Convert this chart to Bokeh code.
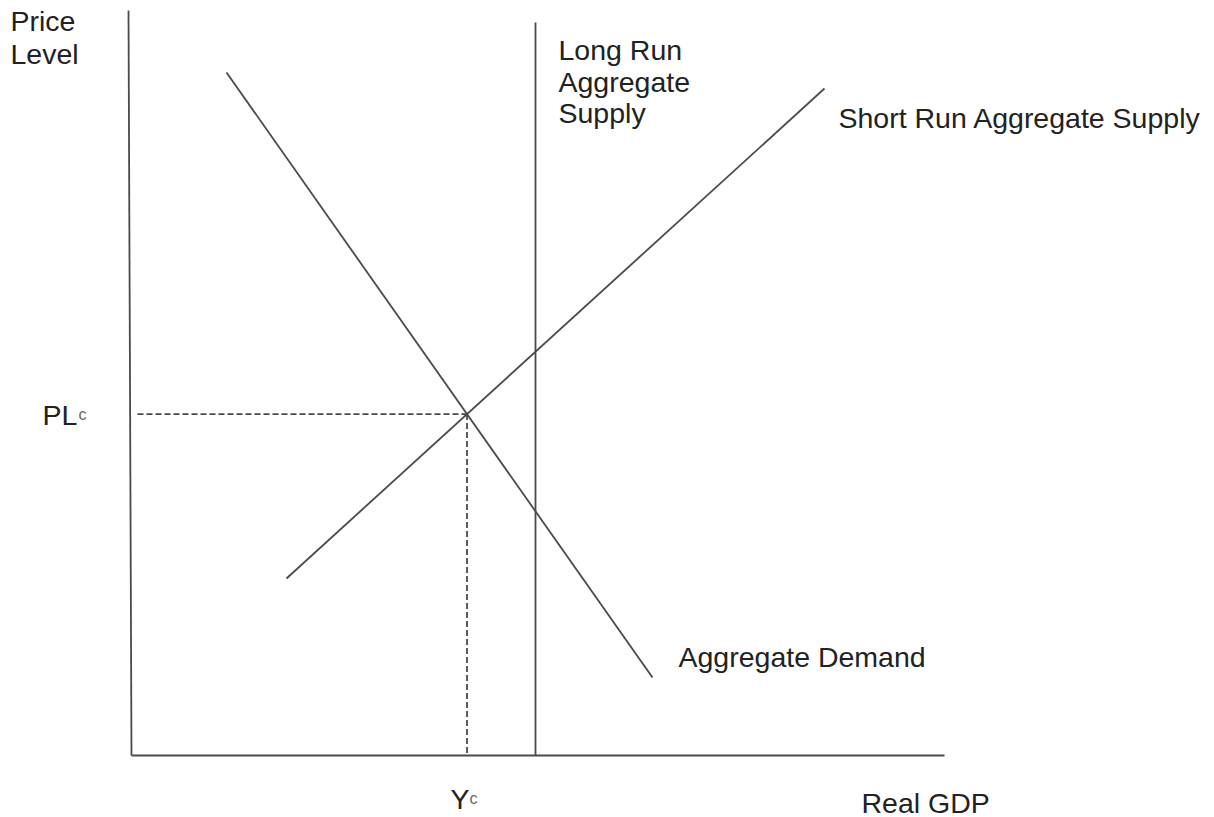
from bokeh.plotting import figure
from bokeh.models import Range1d
from bokeh.core.properties import value
from bokeh.embed import file_html
from bokeh.resources import INLINE

# ---- data (chart units; origin at the corner of the axes) ----
yaxis_x = [-3, 0]
yaxis_y = [745, 0]
xaxis_x = [0, 813]
xaxis_y = [0, 0]

ad_x = [95, 521]        # Aggregate Demand endpoints
ad_y = [683, 78]
sras_x = [155, 693]     # Short Run Aggregate Supply endpoints
sras_y = [177, 667]
lras_x = [404, 404]     # Long Run Aggregate Supply
lras_y = [0, 733]
guide_start_x = 6       # start of dashed PLc guide

# labels
main_text = ["Price", "Level", "Long Run", "Aggregate", "Supply",
             "Short Run Aggregate Supply", "Aggregate Demand",
             "PL", "Y", "Real GDP"]
main_x = [-121, -121, 427, 427, 427, 707, 547, -89, 319, 730]
main_y = [735, 702, 706, 674, 643, 638, 99, 341, -43, -47]
sub_text = ["c", "c"]
sub_x = [-53, 338]
sub_y = [341, -43]

# ---- equilibrium: intersection of AD and SRAS ----
m_ad = (ad_y[1] - ad_y[0]) / (ad_x[1] - ad_x[0])
m_sr = (sras_y[1] - sras_y[0]) / (sras_x[1] - sras_x[0])
eq_x = (sras_y[0] - ad_y[0] + m_ad * ad_x[0] - m_sr * sras_x[0]) / (m_ad - m_sr)
eq_y = ad_y[0] + m_ad * (eq_x - ad_x[0])

W, H = 1214, 817
p = figure(width=W, height=H, output_backend="svg", toolbar_location=None,
           x_range=Range1d(-131, -131 + W), y_range=Range1d(755 - H, 755),
           min_border=0, background_fill_color="white", border_fill_color="white")
p.axis.visible = False
p.grid.visible = False
p.outline_line_color = None

LC = "#4a4a4a"
LW = 1.8
p.line(yaxis_x, yaxis_y, line_color=LC, line_width=LW)
p.line(xaxis_x, xaxis_y, line_color=LC, line_width=LW)
p.line(ad_x, ad_y, line_color=LC, line_width=LW)
p.line(sras_x, sras_y, line_color=LC, line_width=LW)
p.line(lras_x, lras_y, line_color=LC, line_width=LW)

p.line([guide_start_x, eq_x], [eq_y, eq_y], line_color="#4a4a4a",
       line_width=1.8, line_dash="6 3")
p.line([eq_x, eq_x], [eq_y, 0], line_color="#4a4a4a",
       line_width=1.8, line_dash="6 3")

p.text(x=main_x, y=main_y, text=main_text, text_font=value("Liberation Sans"),
       text_font_size="28.5px", text_color="#222222", text_align="left",
       text_baseline="alphabetic")
p.text(x=sub_x, y=sub_y, text=sub_text, text_font=value("Liberation Sans"),
       text_font_size="16px", text_color="#666666", text_align="left",
       text_baseline="alphabetic")

open("out.html", "w").write(file_html(p, INLINE))
